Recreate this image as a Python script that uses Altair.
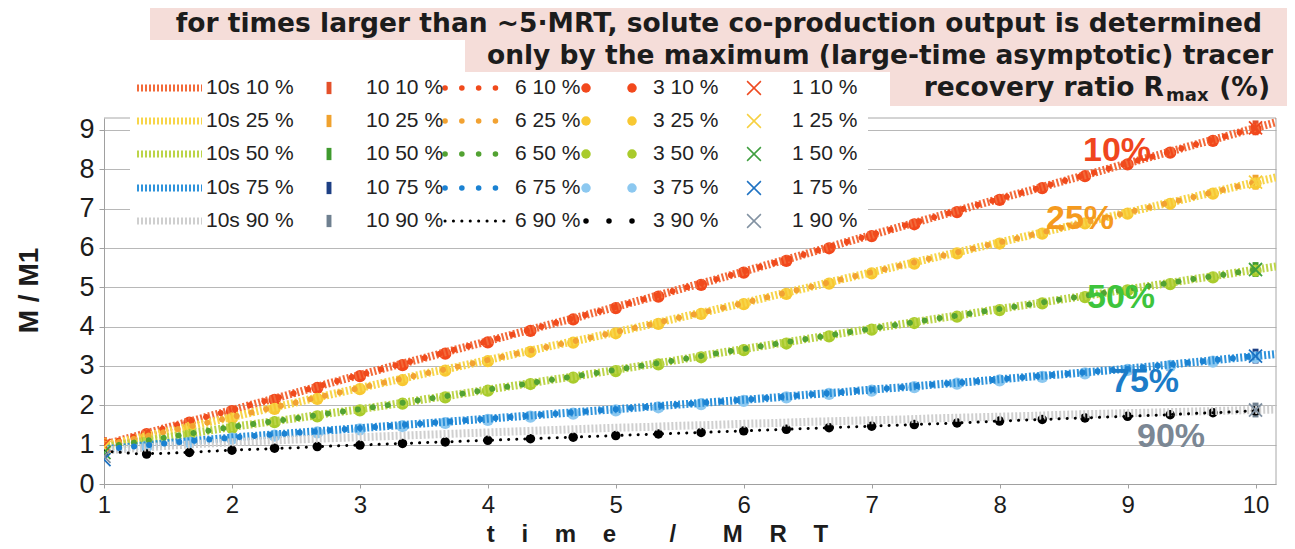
import altair as alt
import pandas as pd

# ------------------------------------------------------------------
# Data
# ------------------------------------------------------------------
RATIOS = ["10", "25", "50", "75", "90"]
RATIO_TEXT = ["10%", "25%", "50%", "75%", "90%"]

# sample times (time / MRT) for the dense series ("10s", "6")
T_FINE = [1.0, 1.25, 1.5, 1.75, 2.0, 2.25, 2.5, 2.75, 3.0, 3.25, 3.5, 3.75,
          4.0, 4.25, 4.5, 4.75, 5.0, 5.25, 5.5, 5.75, 6.0, 6.25, 6.5, 6.75,
          7.0, 7.25, 7.5, 7.75, 8.0, 8.25, 8.5, 8.75, 9.0, 9.25, 9.5, 9.75,
          10.0, 10.25]

M_FINE = {
    "10": [1.00, 1.22, 1.44, 1.66, 1.88, 2.10, 2.32, 2.55, 2.77, 2.99, 3.20, 3.42,
           3.63, 3.85, 4.07, 4.28, 4.50, 4.72, 4.95, 5.17, 5.40, 5.63, 5.86, 6.10,
           6.33, 6.56, 6.79, 7.02, 7.25, 7.47, 7.70, 7.92, 8.15, 8.37, 8.60, 8.82,
           9.05, 9.27],
    "25": [0.98, 1.16, 1.34, 1.52, 1.70, 1.89, 2.07, 2.26, 2.44, 2.62, 2.80, 2.97,
           3.15, 3.33, 3.51, 3.68, 3.86, 4.04, 4.23, 4.41, 4.60, 4.80, 4.99, 5.19,
           5.38, 5.57, 5.76, 5.95, 6.14, 6.33, 6.52, 6.71, 6.90, 7.09, 7.28, 7.48,
           7.67, 7.86],
    "50": [0.93, 1.06, 1.19, 1.32, 1.45, 1.56, 1.67, 1.79, 1.90, 2.02, 2.15, 2.27,
           2.40, 2.52, 2.65, 2.77, 2.90, 3.03, 3.16, 3.30, 3.43, 3.56, 3.69, 3.82,
           3.95, 4.07, 4.20, 4.32, 4.45, 4.57, 4.70, 4.82, 4.95, 5.07, 5.20, 5.32,
           5.45, 5.57],
    "75": [0.88, 0.96, 1.04, 1.11, 1.18, 1.24, 1.30, 1.36, 1.42, 1.48, 1.54, 1.60,
           1.66, 1.72, 1.78, 1.84, 1.90, 1.96, 2.02, 2.08, 2.14, 2.20, 2.27, 2.33,
           2.40, 2.46, 2.53, 2.59, 2.66, 2.73, 2.79, 2.86, 2.93, 3.01, 3.09, 3.17,
           3.25, 3.33],
    "90": [0.85, 0.91, 0.97, 1.02, 1.06, 1.10, 1.13, 1.16, 1.19, 1.22, 1.25, 1.28,
           1.31, 1.34, 1.37, 1.40, 1.43, 1.45, 1.48, 1.50, 1.53, 1.55, 1.58, 1.60,
           1.62, 1.64, 1.67, 1.69, 1.71, 1.73, 1.76, 1.78, 1.80, 1.82, 1.84, 1.86,
           1.88, 1.90],
}

# "6 90 %" (black dotted) lies a little below the grey curve early on
M6_BLACK_90 = [0.84, 0.77, 0.78, 0.82, 0.86, 0.89, 0.92, 0.96, 0.99, 1.02, 1.05, 1.08,
               1.11, 1.14, 1.17, 1.20, 1.23, 1.26, 1.29, 1.32, 1.35, 1.38, 1.41, 1.44,
               1.47, 1.50, 1.53, 1.56, 1.60, 1.63, 1.66, 1.69, 1.72, 1.75, 1.79, 1.82,
               1.86]

# "3" series (large round markers)
T_THIRD = [1.0, 1.333, 1.667, 2.0, 2.333, 2.667, 3.0, 3.333, 3.667, 4.0, 4.333, 4.667,
           5.0, 5.333, 5.667, 6.0, 6.333, 6.667, 7.0, 7.333, 7.667, 8.0, 8.333, 8.667,
           9.0, 9.333, 9.667, 10.0]
M3 = {
    "10": [0.98, 1.27, 1.56, 1.85, 2.14, 2.44, 2.74, 3.02, 3.31, 3.60, 3.89, 4.18, 4.47, 4.76,
           5.06, 5.37, 5.67, 5.99, 6.30, 6.60, 6.91, 7.22, 7.52, 7.82, 8.12, 8.42, 8.72, 9.02],
    "25": [0.95, 1.19, 1.43, 1.67, 1.91, 2.16, 2.41, 2.64, 2.88, 3.12, 3.36, 3.59, 3.83, 4.07,
           4.32, 4.57, 4.83, 5.09, 5.35, 5.60, 5.86, 6.11, 6.36, 6.62, 6.87, 7.12, 7.38, 7.64],
    "50": [0.90, 1.07, 1.25, 1.42, 1.57, 1.72, 1.87, 2.04, 2.20, 2.37, 2.54, 2.70, 2.87, 3.04,
           3.22, 3.40, 3.57, 3.75, 3.92, 4.09, 4.25, 4.42, 4.59, 4.75, 4.92, 5.08, 5.25, 5.42],
    "75": [0.85, 0.96, 1.06, 1.15, 1.23, 1.31, 1.39, 1.47, 1.55, 1.63, 1.71, 1.79, 1.87, 1.95,
           2.03, 2.11, 2.20, 2.29, 2.37, 2.46, 2.55, 2.63, 2.72, 2.81, 2.90, 3.00, 3.11, 3.22],
    "90": [0.82, 0.76, 0.80, 0.86, 0.91, 0.95, 0.99, 1.03, 1.07, 1.11, 1.15, 1.19, 1.23, 1.27,
           1.31, 1.35, 1.39, 1.43, 1.47, 1.51, 1.55, 1.60, 1.64, 1.68, 1.72, 1.76, 1.81, 1.86],
}

# "10" (bar markers) and "1" (x markers) are only visible at the two ends
T_ENDS = [1.0, 10.0]
M10 = {
    "10": [1.00, 9.05],
    "25": [0.98, 7.67],
    "50": [0.93, 5.45],
    "75": [0.88, 3.25],
    "90": [0.85, 1.88],
}
M1 = {
    "10": [0.98, 9.05],
    "25": [0.93, 7.67],
    "50": [0.80, 5.45],
    "75": [0.62, 3.25],
    "90": [0.70, 1.88],
}

X_TICKS = [1, 2, 3, 4, 5, 6, 7, 8, 9, 10]
Y_TICKS = [0, 1, 2, 3, 4, 5, 6, 7, 8, 9]

TITLE_1 = "for times larger than ~5\u00b7MRT, solute co-production output is determined"
TITLE_2 = "only by the maximum (large-time asymptotic) tracer"
TITLE_3A = "recovery ratio R"
TITLE_3B = "max"
TITLE_3C = "(%)"
Y_TITLE = "M / M1"
SP = "\u00a0"
X_TITLE = "t" + SP * 4 + "i" + SP * 4 + "m" + SP * 4 + "e" + SP * 8 + "/" + SP * 7 + "M" + SP * 4 + "R" + SP * 4 + "T"

# ------------------------------------------------------------------
# Style
# ------------------------------------------------------------------
COLORS = {
    "10s": ["#f26a3a", "#f7d54a", "#bcd44a", "#2f93db", "#cfcfcf"],
    "10":  ["#e4502a", "#f0a22e", "#3f9a2e", "#1d3f84", "#6f8090"],
    "6":   ["#f04a1c", "#f2a232", "#52a232", "#1b82d2", "#000000"],
    "3":   ["#f2481c", "#f8c832", "#a9cb2c", "#8cc8f0", "#000000"],
    "1":   ["#ee4a20", "#f7d040", "#3f9f3f", "#1e72c2", "#8292a2"],
}
LABEL_COLORS = ["#f0461e", "#f59a1e", "#3ec43c", "#1c7cc8", "#7b8794"]
PINK = "#f5ddd9"
TXT = "#1c1c1c"
TITLE_FONT = "DejaVu Sans"
AX_FONT = "Liberation Sans"

BAR_PATH = "M-0.4,-1L0.4,-1L0.4,1L-0.4,1Z"
X_PATH = "M-1,-1L1,1M-1,1L1,-1"

# ------------------------------------------------------------------
# Layout (page pixels) and scale geometry
# ------------------------------------------------------------------
W, H = 1172, 366
OX, OY = 104, 118          # page position of plot origin
X0, X1 = 1.0, 10.16
Y0, Y1 = 0.0, 9.3


def t_at(px):
    return X0 + (px - OX) * (X1 - X0) / W


def v_at(py):
    return Y1 - (py - OY) * (Y1 - Y0) / H


def rx(px):
    return px - OX


def ry(py):
    return py - OY


SX = alt.Scale(domain=[X0, X1], nice=False, zero=False)
SY = alt.Scale(domain=[Y0, Y1], nice=False, zero=False)

AX = alt.Axis(values=X_TICKS, grid=False, domainColor="#a0a0a0", tickColor="#a0a0a0",
              tickSize=4, labelFont=AX_FONT, labelFontSize=24, labelColor=TXT,
              labelPadding=5, labelFlush=False, labelOverlap=False,
              title=X_TITLE, titleFont=AX_FONT, titleFontSize=24, titleFontWeight="bold",
              titleColor=TXT, titleX=553, titleY=50, titleBaseline="middle", titleAlign="center")
AY = alt.Axis(values=Y_TICKS, grid=True, gridColor="#b8b8b8", domainColor="#a0a0a0",
              tickColor="#a0a0a0", tickSize=5, labelFont=AX_FONT, labelFontSize=27,
              labelColor=TXT, labelPadding=5, labelOverlap=False,
              title=Y_TITLE, titleFont=AX_FONT, titleFontSize=28, titleFontWeight="bold",
              titleColor=TXT, titleX=-75, titleY=172, titleAngle=270,
              titleBaseline="middle", titleAlign="center")

X = alt.X("t:Q", scale=SX, axis=AX)
Y = alt.Y("v:Q", scale=SY, axis=AY)
COL = alt.Color("col:N", scale=None)

# ------------------------------------------------------------------
# Tables
# ------------------------------------------------------------------
rows_10s, rows_10, rows_6c, rows_6k, rows_3, rows_1 = [], [], [], [], [], []
for i, r in enumerate(RATIOS):
    for t, v in zip(T_FINE, M_FINE[r]):
        rows_10s.append(dict(t=t, v=v, ratio=r, col=COLORS["10s"][i]))
    for t, v in zip(T_ENDS, M10[r]):
        rows_10.append(dict(t=t, v=v, ratio=r, col=COLORS["10"][i]))
    if r != "90":
        for t, v in zip(T_FINE[:37], M_FINE[r][:37]):
            rows_6c.append(dict(t=t, v=v, ratio=r, col=COLORS["6"][i]))
    else:
        for t, v in zip(T_FINE[:37], M6_BLACK_90):
            rows_6k.append(dict(t=t, v=v, ratio=r, col=COLORS["6"][i]))
    for t, v in zip(T_THIRD, M3[r]):
        rows_3.append(dict(t=t, v=v, ratio=r, col=COLORS["3"][i], sz=90 if r == "90" else 150))
    for t, v in zip(T_ENDS, M1[r]):
        rows_1.append(dict(t=t, v=v, ratio=r, col=COLORS["1"][i]))

# legend layout (page pixels)
LEG_ROW_Y = [88, 121, 154, 188, 221]
leg_10s, leg_10, leg_6c, leg_6k, leg_3, leg_1, leg_txt = [], [], [], [], [], [], []
for i, r in enumerate(RATIOS):
    yv = v_at(LEG_ROW_Y[i])
    for px in (137, 202):
        leg_10s.append(dict(t=t_at(px), v=yv, ratio=r, col=COLORS["10s"][i]))
    leg_10.append(dict(t=t_at(329), v=yv, ratio=r, col=COLORS["10"][i]))
    for px in (445, 512):
        (leg_6k if r == "90" else leg_6c).append(dict(t=t_at(px), v=yv, ratio=r, col=COLORS["6"][i]))
    for px in ((586, 609, 632) if r == "90" else (586, 632)):
        leg_3.append(dict(t=t_at(px), v=yv, ratio=r, col=COLORS["3"][i], sz=30 if r == "90" else 90))
    leg_1.append(dict(t=t_at(754), v=yv, ratio=r, col=COLORS["1"][i]))
    for px, name in ((206, "10s"), (366, "10"), (515, "6"), (653, "3"), (792, "1")):
        leg_txt.append(dict(t=t_at(px), v=yv, lab=f"{name} {r} %"))

# ratio annotations (page pixel centres)
LABEL_POS = [(1117, 151), (1080, 219), (1121, 298), (1145, 382), (1171, 437)]
ann = [dict(t=t_at(px), v=v_at(py), lab=RATIO_TEXT[i], col=LABEL_COLORS[i])
       for i, (px, py) in enumerate(LABEL_POS)]

ONE = alt.Data(values=[{}])


def deco_rect(x0, x1, y0, y1, color):
    return alt.Chart(ONE).mark_rect(color=color).encode(
        x=alt.value(rx(x0)), x2=alt.value(rx(x1)), y=alt.value(ry(y0)), y2=alt.value(ry(y1)))


def deco_text(txt, px, py, size, align):
    return alt.Chart(ONE).mark_text(
        text=txt, align=align, baseline="middle", font=TITLE_FONT, fontSize=size,
        fontWeight="bold", color=TXT).encode(x=alt.value(rx(px)), y=alt.value(ry(py)))


def df(rows):
    return pd.DataFrame(rows)


# borders (top & right) -- view stroke disabled so the legend can hide the top one
border_top = alt.Chart(ONE).mark_rule(color="#a8a8a8", strokeWidth=1).encode(
    x=alt.value(0), x2=alt.value(W), y=alt.value(0))
border_right = alt.Chart(ONE).mark_rule(color="#a8a8a8", strokeWidth=1).encode(
    x=alt.value(W), y=alt.value(0), y2=alt.value(H))

legend_bg = deco_rect(130, 868, 70, 236, "white")
boxes = [deco_rect(150, 1290, 5, 40, PINK), deco_rect(465, 1290, 40, 72, PINK),
         deco_rect(890, 1290, 72, 106, PINK)]

# data layers
l3 = alt.Chart(df(rows_3)).mark_point(shape="circle", filled=True, opacity=1, clip=True).encode(
    x=X, y=Y, color=COL, size=alt.Size("sz:Q", scale=None))
l10s = alt.Chart(df(rows_10s)).mark_line(strokeWidth=8, strokeDash=[2, 2], clip=True).encode(
    x=X, y=Y, color=COL, detail="ratio:N")
l10 = alt.Chart(df(rows_10)).mark_point(shape=BAR_PATH, filled=True, size=220, opacity=1, clip=True).encode(
    x=X, y=Y, color=COL)
l6c = alt.Chart(df(rows_6c)).mark_line(strokeWidth=6, strokeDash=[0.1, 15], strokeCap="round", clip=True).encode(
    x=X, y=Y, color=COL, detail="ratio:N")
l6k = alt.Chart(df(rows_6k)).mark_line(strokeWidth=3, strokeDash=[0.1, 8], strokeCap="round", clip=True).encode(
    x=X, y=Y, color=COL, detail="ratio:N")
l1 = alt.Chart(df(rows_1)).mark_point(shape=X_PATH, filled=False, size=170, strokeWidth=1.8, opacity=1, clip=True).encode(
    x=X, y=Y, color=COL)

# annotations
lann = alt.Chart(df(ann)).mark_text(font=AX_FONT, fontSize=34, fontWeight="bold", align="center",
                                    baseline="middle").encode(x=X, y=Y, text="lab:N", color=COL)

# legend
g10s = alt.Chart(df(leg_10s)).mark_line(strokeWidth=7, strokeDash=[2, 2]).encode(
    x=X, y=Y, color=COL, detail="ratio:N")
g10 = alt.Chart(df(leg_10)).mark_point(shape=BAR_PATH, filled=True, size=150, opacity=1).encode(
    x=X, y=Y, color=COL)
g6c = alt.Chart(df(leg_6c)).mark_line(strokeWidth=5.5, strokeDash=[0.1, 16.7], strokeCap="round").encode(
    x=X, y=Y, color=COL, detail="ratio:N")
g6k = alt.Chart(df(leg_6k)).mark_line(strokeWidth=3, strokeDash=[0.1, 8.3], strokeCap="round").encode(
    x=X, y=Y, color=COL, detail="ratio:N")
g3 = alt.Chart(df(leg_3)).mark_point(shape="circle", filled=True, opacity=1).encode(
    x=X, y=Y, color=COL, size=alt.Size("sz:Q", scale=None))
g1 = alt.Chart(df(leg_1)).mark_point(shape=X_PATH, filled=False, size=190, strokeWidth=1.5, opacity=1).encode(
    x=X, y=Y, color=COL)
gtxt = alt.Chart(df(leg_txt)).mark_text(font=AX_FONT, fontSize=21, color="#222222", align="left",
                                        baseline="middle").encode(x=X, y=Y, text="lab:N")

titles = [
    deco_text(TITLE_1, 1262, 24, 26.5, "right"),
    deco_text(TITLE_2, 1273, 56, 26.5, "right"),
    deco_text(TITLE_3A, 1164, 88, 26.5, "right"),
    deco_text(TITLE_3B, 1166, 96, 18, "left"),
    deco_text(TITLE_3C, 1270, 88, 26.5, "right"),
]

chart = alt.layer(
    border_top, border_right, legend_bg, *boxes,
    l10, l3, l10s, l6c, l6k, l1,
    lann,
    g10s, g10, g6c, g6k, g3, g1, gtxt,
    *titles,
).properties(
    width=W, height=H,
    autosize=alt.AutoSizeParams(type="none"),
    padding={"left": OX - 8, "top": OY - 8, "right": 11, "bottom": 64},
    background="white",
).configure_view(stroke=None)

chart.save("out.html", embed_options={"renderer": "svg", "actions": False})
